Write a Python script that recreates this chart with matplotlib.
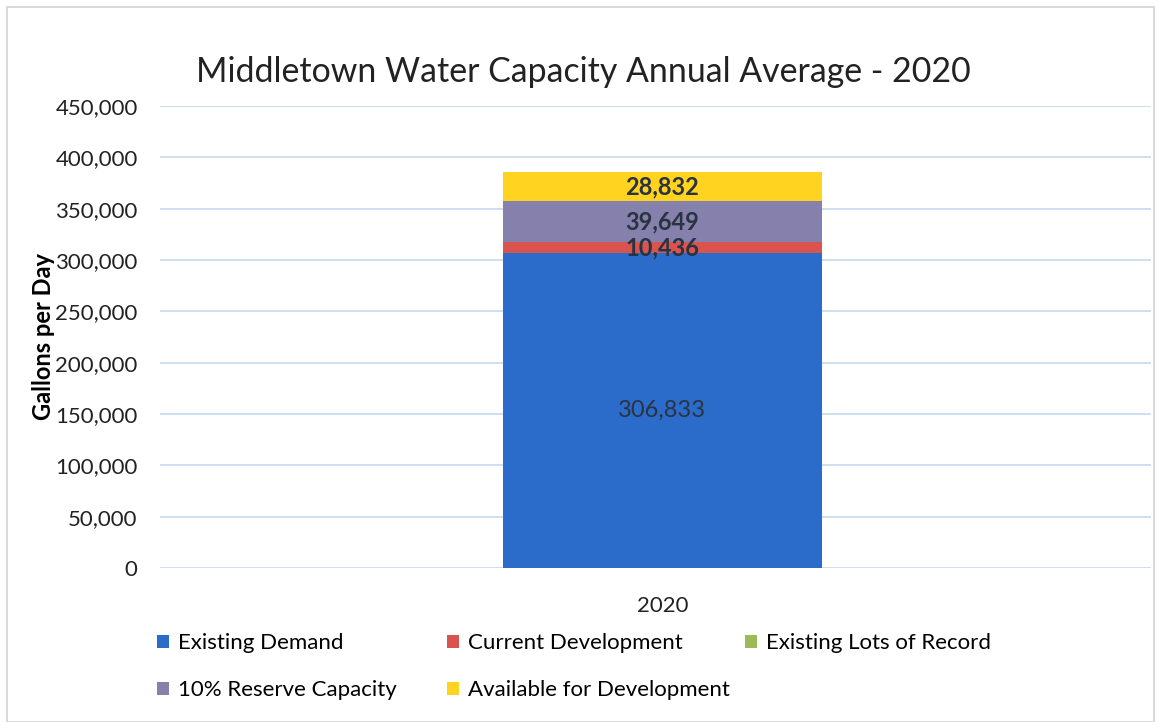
import matplotlib
matplotlib.use("Agg")
import matplotlib.pyplot as plt
from matplotlib.ticker import FuncFormatter
from matplotlib.patches import Rectangle

categories = ["2020"]
series_names = ["Existing Demand", "Current Development", "Existing Lots of Record",
                "10% Reserve Capacity", "Available for Development"]
series_values = [[306833], [10436], [0], [39649], [28832]]
colors = ["#2B6CCB", "#D9534F", "#9BBB59", "#8580AC", "#FFD31F"]
label_weights = ["normal", "bold", "bold", "bold", "bold"]
yticks = [0, 50000, 100000, 150000, 200000, 250000, 300000, 350000, 400000, 450000]

plt.rcParams['font.family'] = ['Lato', 'DejaVu Sans']

fig = plt.figure(figsize=(11.59, 7.22), dpi=100)
fig.patches.append(Rectangle((0.006, 0.0), 0.99, 0.99, transform=fig.transFigure,
                             fill=False, edgecolor="#D0D4DA", linewidth=1.2))
ax = fig.add_axes([0.138, 0.2133, 0.855, 0.64])

x = list(range(len(categories)))
bottom = [0] * len(categories)
handles = []
for name, vals, col, w in zip(series_names, series_values, colors, label_weights):
    bars = ax.bar(x, vals, bottom=bottom, width=0.322, color=col, label=name, zorder=3)
    handles.append(bars)
    for xi, v, b in zip(x, vals, bottom):
        if v > 0:
            ax.text(xi, b + v / 2, f"{v:,}", ha="center", va="center",
                    fontsize=17, color="#2A3340", fontweight=w, zorder=4)
    bottom = [b + v for b, v in zip(bottom, vals)]

ax.set_xlim(-0.507, 0.493)
ax.set_ylim(0, 450000)
ax.set_yticks(yticks)
ax.yaxis.set_major_formatter(FuncFormatter(lambda v, p: f"{int(v):,}"))
ax.set_xticks(x)
ax.set_xticklabels(categories)
ax.tick_params(axis="both", length=0, labelsize=16, colors="#222222")
ax.tick_params(axis="y", pad=16)
ax.tick_params(axis="x", pad=20)
ax.grid(axis="y", color="#C5D9EE", linewidth=1.2, zorder=0)
for s in ax.spines.values():
    s.set_visible(False)
ax.set_ylabel("Gallons per Day", fontsize=17, fontweight="bold", labelpad=0)

fig.text(0.503, 0.9, "Middletown Water Capacity Annual Average - 2020",
         ha="center", va="center", fontsize=24.4, color="#222222")

columns = [[0, 3], [1, 4], [2]]
col_x = [0.128, 0.378, 0.635]
for idx, cx in zip(columns, col_x):
    leg = fig.legend([handles[i] for i in idx], [series_names[i] for i in idx],
                     ncol=1, loc="upper left", bbox_to_anchor=(cx, 0.135),
                     frameon=False, fontsize=16, handlelength=0.55, handleheight=0.55,
                     handletextpad=0.4, labelspacing=1.2, borderaxespad=0)

fig.savefig("out.png", dpi=100, facecolor="white")
